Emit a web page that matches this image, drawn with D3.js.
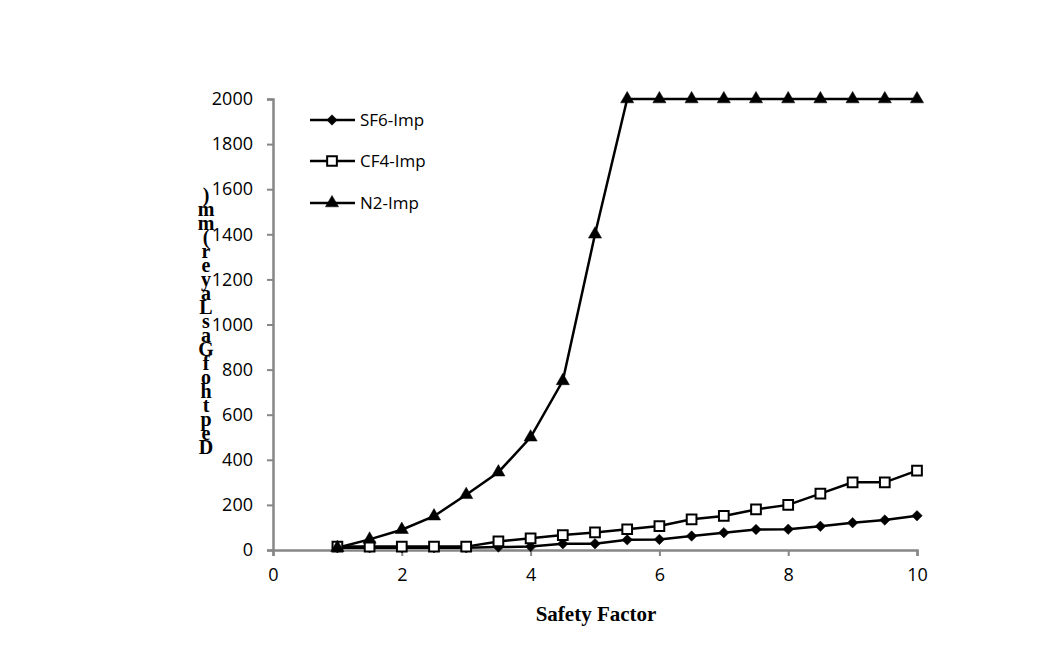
<!DOCTYPE html>
<html><head><meta charset="utf-8">
<script src="https://cdn.jsdelivr.net/npm/d3@7"></script>
<style>body{margin:0;background:#fff}</style>
</head><body>
<svg id="c" width="1055" height="649"></svg>
<script>
const safetyFactor = [1,1.5,2,2.5,3,3.5,4,4.5,5,5.5,6,6.5,7,7.5,8,8.5,9,9.5,10];
const sf6Imp = [10,10,10,10,10,13,15,28,28,45,47,62,77,91,92,105,121,133,152];
const cf4Imp = [15,15,15,15,15,38,52,66,78,92,106,136,151,180,200,250,300,300,352];
const n2Imp  = [10,47,90,150,245,345,500,750,1400,2000,2000,2000,2000,2000,2000,2000,2000,2000,2000];
const xTicks = [0,2,4,6,8,10];
const yTicks = [0,200,400,600,800,1000,1200,1400,1600,1800,2000];
const seriesNames = ["SF6-Imp","CF4-Imp","N2-Imp"];
const xTitle = "Safety Factor";
const yTitle = "Depth of Gas Layer (mm)";

const svg = d3.select("#c");
const x = d3.scaleLinear().domain([0,10]).range([273,917]);
const y = d3.scaleLinear().domain([0,2000]).range([550,99]);
const axisColor = "#868686";
const tickFont = "'Open Sans', sans-serif";

const ya = svg.append("g").attr("transform","translate(273,0)")
  .call(d3.axisLeft(y).tickValues(yTicks).tickSize(6).tickPadding(14).tickFormat(d3.format("d")));
const xa = svg.append("g").attr("transform","translate(0,550)")
  .call(d3.axisBottom(x).tickValues(xTicks).tickSize(6).tickPadding(12).tickFormat(d3.format("d")));
[ya,xa].forEach(g=>{
  g.select(".domain").attr("stroke",axisColor).attr("stroke-width",2.5);
  g.selectAll(".tick line").attr("stroke",axisColor).attr("stroke-width",2);
  g.selectAll(".tick text").attr("fill","#000").style("font-family",tickFont).style("font-size","18px");
});

const line = d3.line().x(d=>x(d[0])).y(d=>y(d[1]));
const data = [sf6Imp, cf4Imp, n2Imp];
const symbols = [d3.symbolDiamond2, d3.symbolSquare2, d3.symbolTriangle];
const symSize = [70, 120, 75];

data.forEach((vals,i)=>{
  const pts = safetyFactor.map((s,j)=>[s, vals[j]]);
  svg.append("path").datum(pts).attr("d",line)
    .attr("fill","none").attr("stroke","#000").attr("stroke-width",2.5);
});
data.forEach((vals,i)=>{
  const pts = safetyFactor.map((s,j)=>[s, vals[j]]);
  svg.append("g").selectAll("path").data(pts).join("path")
    .attr("transform",d=>`translate(${x(d[0])},${y(d[1])})`)
    .attr("d", d3.symbol().type(symbols[i]).size(symSize[i]))
    .attr("fill", i===1 ? "#fff" : "#000")
    .attr("stroke","#000").attr("stroke-width", i===1 ? 2 : 0.5);
});

const legY = [120,161,203];
seriesNames.forEach((n,i)=>{
  const g = svg.append("g").attr("transform",`translate(0,${legY[i]})`);
  g.append("line").attr("x1",310).attr("x2",355).attr("y1",0).attr("y2",0)
    .attr("stroke","#000").attr("stroke-width",2.5);
  g.append("path").attr("transform","translate(332,0)")
    .attr("d", d3.symbol().type(symbols[i]).size(symSize[i]))
    .attr("fill", i===1 ? "#fff" : "#000").attr("stroke","#000").attr("stroke-width", i===1?2:0.5);
  g.append("text").attr("x",360).attr("y",6).text(n)
    .style("font-family",tickFont).style("font-size","17px").attr("fill","#000");
});

svg.append("text").attr("x",596).attr("y",621).attr("text-anchor","middle")
  .text(xTitle).style("font-family","'Liberation Serif', serif").style("font-weight","bold").style("font-size","21px");

// y title: stacked upright characters, bottom to top, in one text element
const chars = yTitle.replace(/ /g,"").split("");
const yt = svg.append("text").attr("text-anchor","middle")
  .style("font-family","'Liberation Serif', serif").style("font-weight","bold").style("font-size","20px");
chars.forEach((ch,i)=>{
  yt.append("tspan").attr("x",206).attr("y",454 - i*14).text(ch);
});
</script>
</body></html>
